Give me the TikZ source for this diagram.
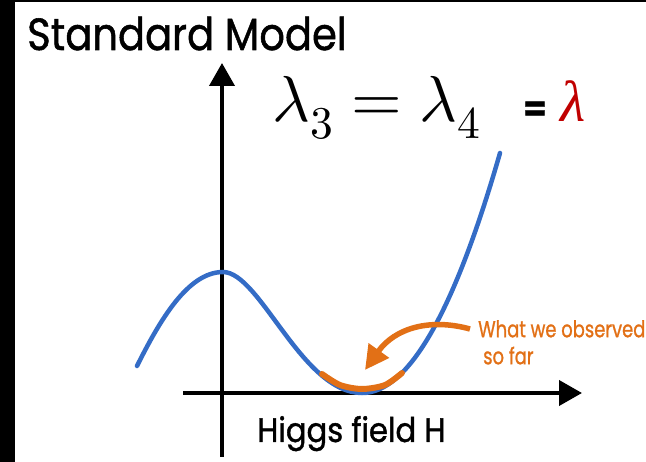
\documentclass[tikz,border=0pt]{standalone}
\usepackage{fontspec}
\usepackage{unicode-math}
\setmathfont{Latin Modern Math}
\newfontfamily\futura{Poppins}[FakeBold=1.2]
\newfontfamily\timesfont{Liberation Serif}
\definecolor{higgsblue}{RGB}{52,108,198}
\definecolor{higgsorange}{RGB}{226,112,22}
\definecolor{higgsred}{RGB}{192,0,0}
\usetikzlibrary{arrows.meta,positioning}
\tikzset{
  axisline/.style={line width=4pt, -{Triangle[length=23pt,width=25pt]}},
  potential/.style={higgsblue, line width=4.5pt, line cap=round},
  observed/.style={higgsorange, line width=6pt, line cap=round},
  sflabel/.style={font=\futura, inner sep=0pt},
}

\begin{document}
\begin{tikzpicture}[x=1pt,y=-1pt]
  \useasboundingbox (0,0) rectangle (646,462);
  \clip (0,0) rectangle (646,462);
  % Frame
  \fill[black] (0,0) rectangle (15,462);
  \fill[black] (0,0) rectangle (646,2);

  % Title
  \node[sflabel, anchor=base west, font=\futura\fontsize{45}{50}\selectfont] (title) at (27,50) {\scalebox{0.89}[1]{Standard Model}};

  % Axes
  \coordinate (ybot) at (222,457);
  \coordinate (ytop) at (222,63);
  \coordinate (xleft) at (183,393);
  \coordinate (xright) at (582,393);
  \draw[axisline] (ybot) -- (ytop);
  \draw[axisline] (xleft) -- (xright);

  % Potential
  \draw[potential] (137,366) .. controls (160,320) and (188,272) .. (223,272)
    .. controls (260,272) and (302,393) .. (362,393)
    .. controls (408,393) and (454,313) .. (500,153);

  % Observed region
  \draw[observed] plot[smooth] coordinates {(322,374) (340,385) (362,389) (385,385) (402,373)};

  % Equation
  \node[anchor=base west, inner sep=0pt, font=\fontsize{65}{72}\selectfont] (eq) at (272,122) {$\lambda_3 = \lambda_4$};
  \node[sflabel, font=\futura\bfseries\fontsize{34}{40}\selectfont] (eqsign) at (535,111) {=};
  \node[anchor=base west, inner sep=0pt, text=higgsred, font=\timesfont\itshape\fontsize{58}{60}\selectfont] (lam) at (560,122) {λ};

  % Annotation
  \node[sflabel, anchor=north west, text=higgsorange, align=left, font=\futura\fontsize{23}{27}\selectfont] (obs) at (478,320) {\scalebox{0.78}[1]{What we observed}\\\hspace{5pt}\scalebox{0.78}[1]{so far}};
  \coordinate (tail) at (470,329);
  \coordinate (tip) at (365,370);
  \draw[higgsorange, line width=5.5pt, -{Triangle[length=24pt,width=24pt]}] (tail) .. controls (430,318) and (395,328) .. (tip);

  % Axis label
  \node[sflabel, anchor=base west, font=\futura\fontsize{34}{40}\selectfont] (hlabel) at (257,442) {\scalebox{0.9}[1]{Higgs field H}};
\end{tikzpicture}
\end{document}
